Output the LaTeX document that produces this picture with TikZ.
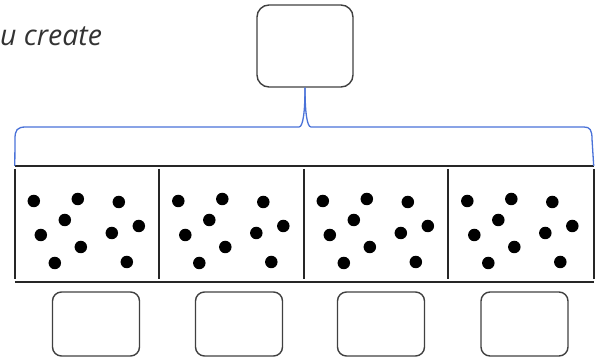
\documentclass[tikz,border=0pt]{standalone}
\usepackage{fontspec}
\setmainfont{Open Sans}
\begin{document}
\begin{tikzpicture}[x=1pt,y=-1pt,
  answerbox/.style={draw=black!75,line width=1.4pt,rounded corners=9pt,
    minimum width=87pt,minimum height=64pt,inner sep=0pt},
  topbox/.style={answerbox,rounded corners=12pt,minimum width=96pt,minimum height=82pt},
  cell/.style={minimum width=145pt,minimum height=116pt,inner sep=0pt},
  stripline/.style={draw=black!85,line width=1.8pt},
  counter/.style={fill=black,circle,inner sep=0pt,minimum size=12.5pt},
  bracket/.style={draw={rgb,255:red,74;green,114;blue,216},line width=1.3pt}]
\useasboundingbox (0,0) rectangle (603,358);

% heading text at the top left
\node[anchor=west,inner sep=0pt,font=\itshape\fontsize{28.5}{31}\selectfont,text=black!80]
  (head) at (0,36) {u create};

% the whole
\node[topbox] (top) at (305,46) {};

% the four cells of the strip
\foreach \i/\cx in {1/87.5,2/232,3/376.5,4/521}
  \node[cell] (c\i) at (\cx,224) {};

% strip outline with slight tick overshoot at each divider
\draw[stripline] (c1.north west) -- (c4.north east);
\draw[stripline] (c1.south west) -- (c4.south east);
\foreach \i in {1,2,3,4}
  \draw[stripline] ([yshift=-3pt]c\i.north west) -- ([yshift=3pt]c\i.south west);
\draw[stripline] ([yshift=-3pt]c4.north east) -- ([yshift=3pt]c4.south east);

% ten counters in each cell
\foreach \i in {1,2,3,4}
  \foreach \dx/\dy in {19/-23,63/-25,104/-22,50/-4,26/11,97/9,124/2,66/23,40/39,112/38}
    \node[counter] at ([xshift=\dx pt,yshift=-\dy pt]c\i.west) {};

% bracket joining the strip to the whole
\draw[bracket] (c1.north west) -- (15,139)
  .. controls (15,130) and (17,127) .. (26,127) -- (299,127)
  .. controls (303,127) and (305,112) .. (top.south);
\draw[bracket] (top.south)
  .. controls (305,112) and (307,127) .. (311,127) -- (584,127)
  .. controls (590,127) and (592,130) .. (592,139) -- (c4.north east);

% the parts
\node[answerbox] (p1) at (96,324) {};
\node[answerbox] (p2) at (239,324) {};
\node[answerbox] (p3) at (381,324) {};
\node[answerbox] (p4) at (524.5,324) {};
\end{tikzpicture}
\end{document}
